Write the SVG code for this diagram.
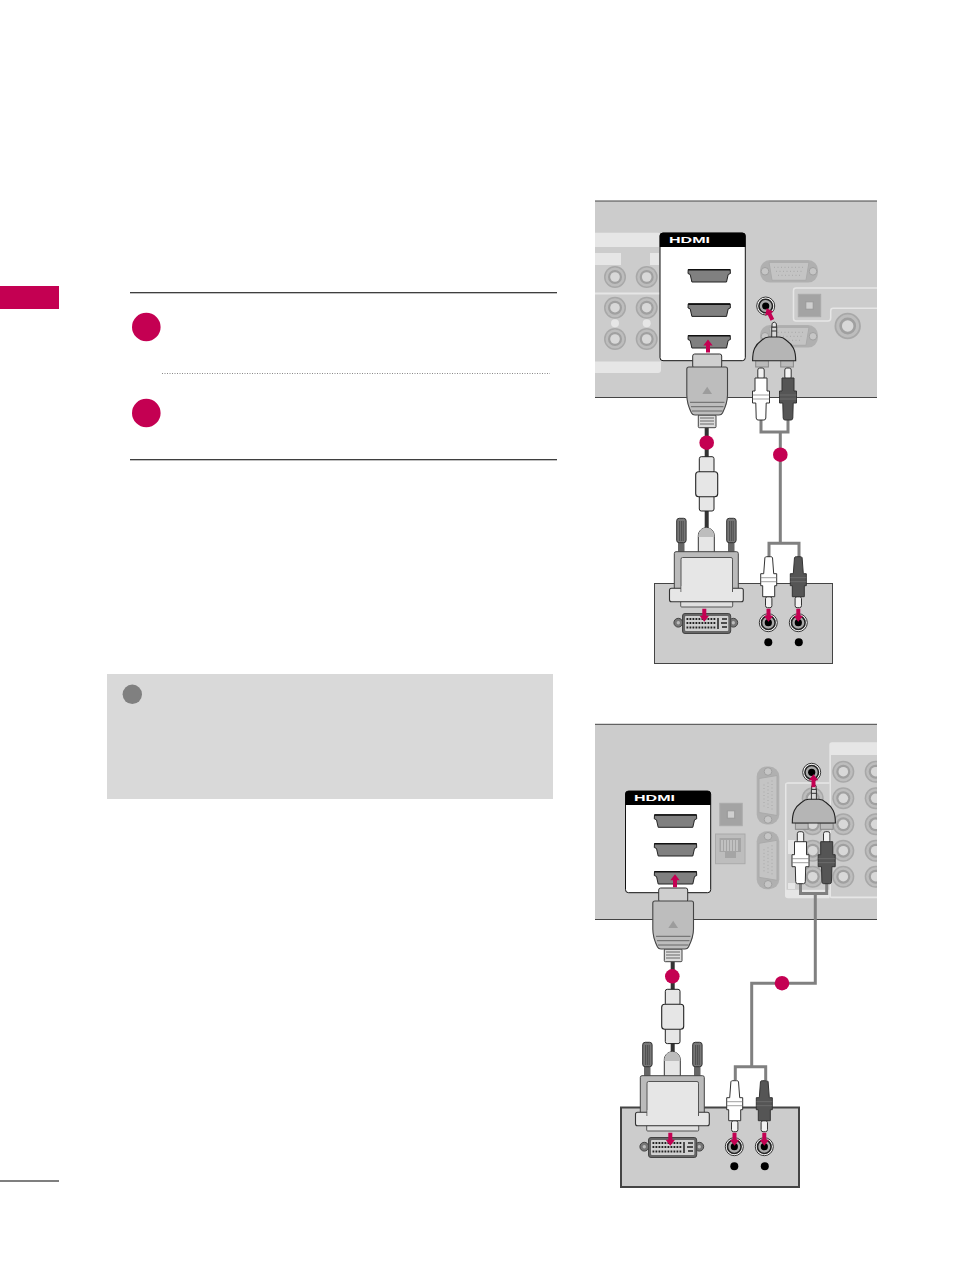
<svg xmlns="http://www.w3.org/2000/svg" xmlns:xlink="http://www.w3.org/1999/xlink" width="954" height="1271" viewBox="0 0 954 1271">
<style>
.panel{fill:#ccc}
.edge{stroke:#444;stroke-width:1;fill:none}
.lite{fill:#e6e6e6}
.hbox{fill:#fff;stroke:#111;stroke-width:1}
.hhead{fill:#000}
.htxt{font-family:"Liberation Sans",Arial,sans-serif;font-weight:700;font-size:9.5px;fill:#fff}
.pink{fill:#c40052}
.wire{fill:none;stroke:#808080;stroke-width:3}
.cable{fill:none;stroke:#333;stroke-width:4}
.ln{stroke:#333;fill:none;stroke-width:1}
.body{stroke:#333;stroke-width:1}
.faint{fill:none;stroke:#e6e6e6;stroke-width:1.5}
</style>
<defs>
<clipPath id="clipP2"><rect x="595" y="724" width="282" height="196"/></clipPath>
<g id="arrow"><path class="pink" d="M-2 -13 H2 V-6 H4.7 L0 0 L-4.7 -6 H-2Z"/></g>
<g id="hport">
<path d="M0.5 0.5 H42.5 L42.7 4.5 L40.5 5.5 L38.8 13 H4.2 L2.5 5.5 L0.3 4.5Z" fill="#808080" stroke="#222" stroke-width="1"/>
<path d="M0.5 0.7 H42.5" stroke="#111" stroke-width="1.6"/>
</g>
<g id="cport">
<circle r="11" fill="#a8a8a8"/><circle r="9.5" fill="#bdbdbd"/><circle r="7" fill="#a0a0a0"/><circle r="4.8" fill="#d8d8d8"/>
</g>
<g id="vga">
<rect x="-29" y="-11.3" width="58" height="22.6" rx="10" fill="#b0b0b0"/>
<path d="M-20 -9 H20 L17 9 H-17Z" fill="#c4c4c4" stroke="#aaa"/>
<circle cx="-24" r="3.8" fill="#c6c6c6" stroke="#a0a0a0"/><circle cx="24" r="3.8" fill="#c6c6c6" stroke="#a0a0a0"/>
<path d="M-15 -4 H15 M-13 0 H13 M-11 4 H11" stroke="#a8a8a8" stroke-dasharray="1 2.5" fill="none"/>
</g>
<g id="optical">
<rect width="22.4" height="22.4" fill="#a3a3a3" stroke="#aaa"/>
<rect x="7.5" y="7.5" width="7.4" height="7.4" fill="#cfcfcf" stroke="#999"/>
</g>
<g id="jack">
<circle r="9" fill="#fff" stroke="#333" stroke-width="1"/>
<circle r="6.8" fill="#aaa" stroke="#222" stroke-width="1.6"/>
<circle r="3.6" fill="#000"/>
</g>
<g id="rca">
<rect x="-3.2" y="0" width="6.4" height="11" rx="2" fill="#f2f2f2" stroke="#333"/>
<path d="M-6 11 H6 V22 H8 V34 H5 L3.8 50 Q3.5 51 2 51 H-2 Q-3.5 51 -3.8 50 L-5 34 H-8 V22 H-6Z" class="body"/>
<path d="M-8 26 H8 M-8 30 H8" stroke="#777" stroke-width="0.7"/>
</g>
<g id="rcaup">
<rect x="-3.2" y="0" width="6.4" height="11" rx="2" fill="#f2f2f2" stroke="#333"/>
<path d="M-6 10 H6 V23 H8.5 V35 H5.2 L4.8 50 Q4.6 52 3 52 H-3 Q-4.6 52 -4.8 50 L-5.2 35 H-8.5 V23 H-6Z" class="body"/>
<path d="M-8.5 27 H8.5 M-8.5 31 H8.5" stroke="#777" stroke-width="0.7"/>
</g>
<g id="adapter">
<rect x="771.7" y="327" width="5" height="11" fill="#d9d9d9" stroke="#333"/>
<path d="M772 327 V323.5 Q774.2 320.5 776.4 323.5 V327Z" fill="#e6e6e6" stroke="#333"/>
<path d="M771.7 331 H776.7" stroke="#333"/>
<rect x="755.7" y="360.7" width="12.7" height="6.3" fill="#bbb" stroke="#888"/>
<rect x="780.7" y="360.7" width="12.7" height="6.3" fill="#bbb" stroke="#888"/>
<path d="M752.6 360.7 C752.6 350 755 345 762 340 Q765 337 769 337 H779 Q783 337 786 340 C793 345 795.7 350 795.7 360.7Z" fill="#b5b5b5" stroke="#222" stroke-width="1.1"/>
</g>
<g id="hplug">
<rect x="692.7" y="354" width="29" height="14" rx="2" fill="#cfcfcf" stroke="#333"/>
<rect x="698.3" y="415" width="17.7" height="12.7" rx="1" fill="#dcdcdc" stroke="#444"/>
<path d="M700 418 H714 M700 421 H714 M700 424 H714" stroke="#666"/>
<path d="M689 367 H725.5 Q727.5 367 727.5 369 V395 C727.5 403 725 408 722.5 413 Q721.5 415 719 415 H695 Q692.5 415 691.5 413 C689 408 686.8 403 686.8 395 V369 Q686.8 367 689 367Z" fill="#bdbdbd" stroke="#444" stroke-width="1.1"/>
<path d="M702.3 394 L707.2 386.7 L712 394Z" fill="#9c9c9c"/>
<path d="M690 402.3 H724.5 M691 406.7 H723.5 M692 411 H722.5" stroke="#666" stroke-width="1"/>
</g>
<g id="ferrite">
<rect x="699.3" y="456.7" width="14.7" height="16" rx="2" fill="#e6e6e6" stroke="#222"/>
<rect x="699.3" y="495" width="14.7" height="16" rx="2" fill="#e6e6e6" stroke="#222"/>
<rect x="695.7" y="471.7" width="22" height="25" rx="3" fill="#e6e6e6" stroke="#222" stroke-width="1.1"/>
</g>
<g id="dvi">
<rect x="678" y="540" width="6.5" height="13" fill="#666"/>
<rect x="728" y="540" width="6.5" height="13" fill="#666"/>
<rect x="676.7" y="518.3" width="9.4" height="24.4" rx="2.5" fill="#777" stroke="#333"/>
<rect x="726.7" y="518.3" width="9.4" height="24.4" rx="2.5" fill="#777" stroke="#333"/>
<path d="M679.6 521 V541 M681.4 521 V541 M683.2 521 V541 M729.6 521 V541 M731.4 521 V541 M733.2 521 V541" stroke="#444" stroke-width="0.8"/>
<path d="M698.3 553 V536 C698.3 531 702 527.8 706.3 527.8 C710.6 527.8 714.3 531 714.3 536 V553Z" fill="#e6e6e6" stroke="#333"/>
<path d="M698.3 537 C698.3 531 702 527.8 706.3 527.8 C710.6 527.8 714.3 531 714.3 537Z" fill="#bdbdbd"/>
<rect x="680.7" y="601" width="52" height="6" rx="1" fill="#e0e0e0" stroke="#555"/>
<path d="M676 551.7 H736.5 Q738.3 551.7 738.3 553.5 V590 H674.3 V553.5 Q674.3 551.7 676 551.7Z" fill="#bbb" stroke="#444"/>
<rect x="669.5" y="588.3" width="73.8" height="13.4" rx="2" fill="#e6e6e6" stroke="#333" stroke-width="1.1"/>
<path d="M681 592 V559.2 Q681 557.5 682.5 557.5 H731 Q732.5 557.5 732.5 559.2 V592" fill="#e6e6e6" stroke="#555"/>
<rect x="681.6" y="586" width="50.3" height="8" fill="#e6e6e6"/>
</g>
<g id="dviport">
<circle cx="678.3" cy="622.7" r="4.4" fill="#777" stroke="#444"/>
<circle cx="733.3" cy="622.7" r="4.4" fill="#777" stroke="#444"/>
<circle cx="678.3" cy="622.7" r="1.7" fill="#bbb"/>
<circle cx="733.3" cy="622.7" r="1.7" fill="#bbb"/>
<rect x="682.5" y="613.5" width="48.2" height="20" rx="2.5" fill="#666" stroke="#444"/>
<rect x="685" y="616" width="43.3" height="15" rx="1" fill="#d0d0d0"/>
<path d="M686.5 619 H716 M686.5 623 H716 M686.5 627.5 H716" stroke="#222" stroke-width="2" stroke-dasharray="1.8 1.2"/>
<path d="M718 618 V629 M721 623 H727 M722 619 H727 M722 627 H727" stroke="#222" stroke-width="1.5"/>
</g>
<g id="bottomports">
<use href="#jack" x="768.3" y="622.7"/><use href="#jack" x="798.3" y="622.7"/>
<circle cx="768.3" cy="642.3" r="4" fill="#000"/><circle cx="798.8" cy="642.3" r="4" fill="#000"/>
</g>
</defs>

<rect width="954" height="1271" fill="#fff"/>

<g id="sidebar">
<rect class="pink" x="0" y="286" width="59" height="23"/>
<rect x="0" y="1180.5" width="59" height="1" fill="#000"/>
</g>

<g id="steps">
<path d="M130 292.7 H557 M130 459.7 H557" stroke="#000" stroke-width="1.1"/>
<path d="M162 373.5 H550" stroke="#888" stroke-width="1" stroke-dasharray="1 1.5"/>
<circle id="step1" class="pink" cx="146.3" cy="327" r="14.3"/>
<circle id="step2" class="pink" cx="146.3" cy="413" r="14.3"/>
</g>

<g id="note">
<rect x="107" y="674" width="446" height="125" fill="#d9d9d9"/>
<circle cx="132.3" cy="694.3" r="9.7" fill="#808080"/>
</g>

<g id="tv-panel-1">
<rect class="panel" x="595" y="201" width="282" height="196.5"/>
<path class="edge" d="M595 201 H877 M595 397.5 H877"/>
<path class="lite" d="M595 232.7 H658 Q661 232.7 661 236 V370 Q661 373 658 373 H595Z"/>
<rect class="panel" x="595" y="247" width="66" height="45.5"/>
<rect class="panel" x="595" y="294.5" width="66" height="67"/>
<rect class="lite" x="595" y="253" width="26" height="12"/>
<rect class="lite" x="650" y="253" width="9" height="12"/>
<use href="#cport" x="615" y="277"/><use href="#cport" x="646.7" y="277"/>
<use href="#cport" x="615" y="307.7"/><use href="#cport" x="646.7" y="307.7"/>
<use href="#cport" x="615" y="339"/><use href="#cport" x="646.7" y="339"/>
<circle class="lite" cx="615" cy="323.3" r="4"/><circle class="lite" cx="646.7" cy="323.3" r="4"/>
<use href="#vga" x="789" y="271.3"/>
<use href="#vga" x="789" y="336.3"/>
<path class="faint" d="M877 288 H796 Q793.5 288 793.5 290.5 V318.5 Q793.5 321 796 321 H828 Q830.7 321 830.7 318 V311 Q830.7 308.3 833 308.3 H877"/>
<use href="#optical" x="798.3" y="294.3"/>
<use href="#cport" x="847.7" y="326" transform="translate(847.7 326) scale(1.2) translate(-847.7 -326)"/>
</g>

<g id="hdmi-panel-1">
<rect class="hbox" x="660" y="233" width="85.3" height="127.7" rx="3"/>
<path class="hhead" d="M663 232.7 H742.5 Q745.5 232.7 745.5 235.7 V247 H659.7 V235.7 Q659.7 232.7 663 232.7Z"/>
<text class="htxt" x="669" y="243.4" textLength="41" lengthAdjust="spacingAndGlyphs">HDMI</text>
<use href="#hport" x="687.7" y="269"/>
<use href="#hport" x="687.7" y="303.4"/>
<use href="#hport" x="687.7" y="335"/>
</g>

<g id="tv-panel-2">
<rect class="panel" x="595" y="724.3" width="282" height="195"/>
<path class="edge" d="M595 724.3 H877 M595 919.5 H877"/>
<path class="lite" d="M877 742.3 H832 Q829.3 742.3 829.3 745 V895.5 Q829.3 898.3 832 898.3 H877Z"/>
<rect class="panel" x="831" y="755" width="46" height="141.5"/>
<path class="lite" d="M829.5 782.3 H788 Q785 782.3 785 785 V895.5 Q785 898.3 788 898.3 H829.5Z"/>
<rect class="panel" x="786.5" y="783.8" width="43" height="106"/>
<rect class="lite" x="788" y="840" width="7" height="14"/>
<rect class="lite" x="788" y="883" width="7" height="6"/>
<g clip-path="url(#clipP2)">
<use href="#cport" x="843.3" y="771.7"/><use href="#cport" x="875.7" y="771.7"/>
<use href="#cport" x="843.3" y="798.3"/><use href="#cport" x="875.7" y="798.3"/>
<use href="#cport" x="843.3" y="824.3"/><use href="#cport" x="875.7" y="824.3"/>
<use href="#cport" x="843.3" y="850.7"/><use href="#cport" x="875.7" y="850.7"/>
<use href="#cport" x="843.3" y="876.7"/><use href="#cport" x="875.7" y="876.7"/>
<use href="#cport" x="812.7" y="798.3"/><use href="#cport" x="812.7" y="824.3"/>
<use href="#cport" x="812.7" y="850.7"/><use href="#cport" x="812.7" y="876.7"/>
</g>
<use href="#vga" transform="translate(768 795.5) rotate(90)"/>
<use href="#vga" transform="translate(768 860.3) rotate(90)"/>
<use href="#optical" x="719.8" y="803.3"/>
<g id="ethernet">
<rect x="715.5" y="834" width="29.5" height="29.7" fill="#bdbdbd" stroke="#aaa"/>
<path d="M719.5 838 H741 V852 H736 V858 H725 V852 H719.5Z" fill="#a5a5a5"/>
<path d="M722 840 V851 M725 840 V851 M728 840 V851 M731 840 V851 M734 840 V851 M737 840 V851" stroke="#ddd" stroke-width="1"/>
</g>
</g>

<g id="hdmi-panel-2">
<rect class="hbox" x="625.5" y="791" width="85.2" height="101.7" rx="3"/>
<path class="hhead" d="M628.5 791 H707.7 Q710.7 791 710.7 794 V805 H625.3 V794 Q625.3 791 628.5 791Z"/>
<text class="htxt" x="634" y="801.4" textLength="41" lengthAdjust="spacingAndGlyphs">HDMI</text>
<use href="#hport" x="654" y="814.3"/>
<use href="#hport" x="654" y="843"/>
<use href="#hport" x="654" y="871"/>
</g>

<g id="device-1">
<rect x="654.5" y="583.5" width="178" height="80" fill="#ccc" stroke="#444" stroke-width="1"/>
<use href="#dviport"/>
<use href="#bottomports"/>
</g>

<g id="device-2">
<rect x="621" y="1107.5" width="178" height="79.5" fill="#ccc" stroke="#444" stroke-width="2"/>
<use href="#dviport" transform="translate(-34 524)"/>
<use href="#bottomports" transform="translate(-34 524)"/>
</g>

<g id="connectors">
<path class="cable" d="M706.7 427 V457 M706.7 510 V529"/>
<path class="cable" d="M672.7 961 V990 M672.7 1043 V1053"/>
<path class="wire" d="M761 420 V432 H788 V420 M780.3 432 V543.3 M769 557 V543.3 H799 V557"/>
<path class="wire" d="M800.5 882 V893.5 H826.7 V882 M815.3 893.5 V983.3 H751.7 V1066.7 M735.3 1080 V1066.7 H765.7 V1080"/>
</g>

<g id="plugs-1">
<use href="#hplug"/>
<use href="#ferrite"/>
<use href="#dvi"/>
<use href="#adapter"/>
<use href="#rcaup" transform="translate(761 368)" fill="#fff"/>
<use href="#rcaup" transform="translate(788 368)" fill="#555"/>
<use href="#rca" transform="translate(768.7 607.7) scale(1 -1)" fill="#fff"/>
<use href="#rca" transform="translate(798.3 607.7) scale(1 -1)" fill="#555"/>
</g>

<g id="plugs-2">
<use href="#hplug" transform="translate(-34 534)"/>
<use href="#ferrite" transform="translate(-34 532.6)"/>
<use href="#dvi" transform="translate(-34 524)"/>
<use href="#adapter" transform="translate(39.7 462.3)"/>
<use href="#rcaup" transform="translate(800.5 831.7)" fill="#fff"/>
<use href="#rcaup" transform="translate(826.7 831.7)" fill="#555"/>
<use href="#rca" transform="translate(734.7 1131.7) scale(1 -1)" fill="#fff"/>
<use href="#rca" transform="translate(764.3 1131.7) scale(1 -1)" fill="#555"/>
</g>

<g id="jack-top-1"><use href="#jack" x="765.7" y="306"/></g>
<g id="jack-top-2"><use href="#jack" x="811.7" y="772.3"/></g>

<g id="markers">
<use href="#arrow" transform="translate(708 339.5) rotate(180)"/>
<use href="#arrow" transform="translate(766.7 308.3) rotate(154)"/>
<use href="#arrow" transform="translate(704.3 621.7)"/>
<use href="#arrow" transform="translate(768.5 621.7)"/>
<use href="#arrow" transform="translate(798.3 621.7)"/>
<use href="#arrow" transform="translate(675 874.3) rotate(180)"/>
<use href="#arrow" transform="translate(813.5 774.3) rotate(180)"/>
<use href="#arrow" transform="translate(670.3 1145.7)"/>
<use href="#arrow" transform="translate(734.5 1145.7)"/>
<use href="#arrow" transform="translate(764.3 1145.7)"/>
<circle class="pink" cx="706.7" cy="442.7" r="7.3"/>
<circle class="pink" cx="780.3" cy="454.7" r="7.3"/>
<circle class="pink" cx="672.3" cy="976.3" r="7.3"/>
<circle class="pink" cx="782" cy="983.2" r="7.3"/>
</g>
</svg>
